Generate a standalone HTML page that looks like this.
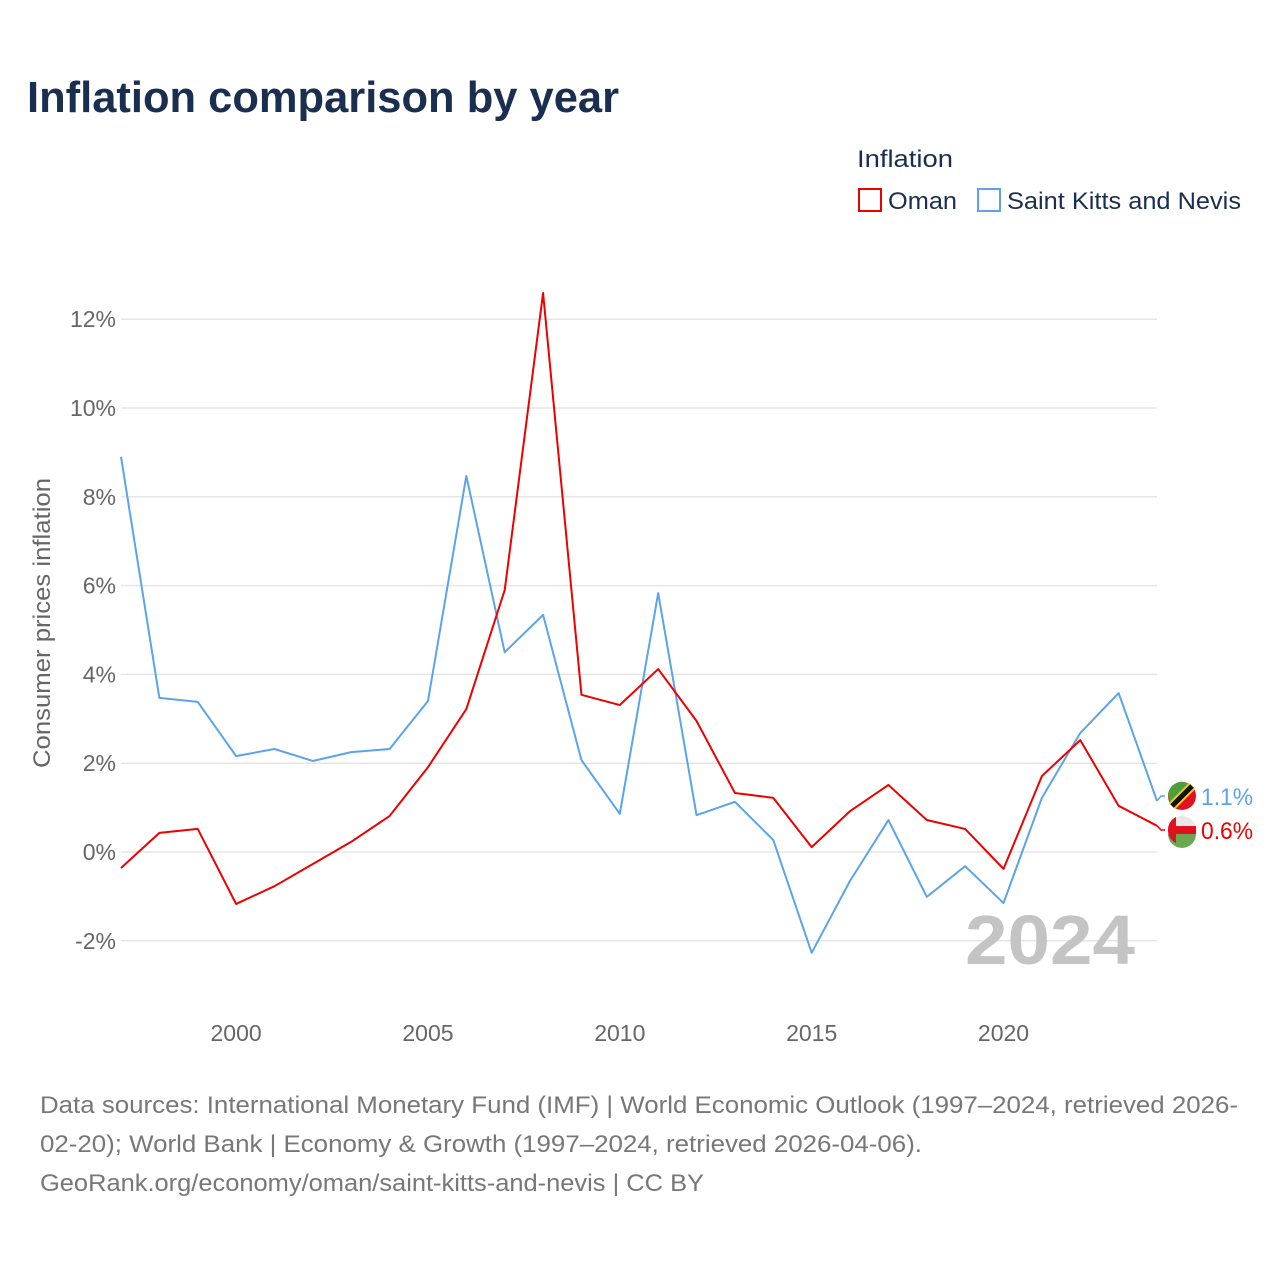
<!DOCTYPE html>
<html><head><meta charset="utf-8"><style>
body{margin:0;background:#fff;font-family:"Liberation Sans",sans-serif}
svg{display:block}
</style></head><body>
<svg id="chart" width="1280" height="1280" viewBox="0 0 1280 1280">
<text x="27" y="112" font-size="44" font-weight="bold" fill="#1a2e4f" textLength="592" lengthAdjust="spacingAndGlyphs">Inflation comparison by year</text>
<g>
<text x="857" y="167" font-size="24" fill="#1a2e4f" textLength="96" lengthAdjust="spacingAndGlyphs">Inflation</text>
<g><rect x="859" y="189" width="22" height="22" fill="none" stroke="#e00" stroke-width="2"/><text x="888" y="209" font-size="24" fill="#1a2e4f" textLength="69" lengthAdjust="spacingAndGlyphs">Oman</text></g>
<g><rect x="978" y="189" width="22" height="22" fill="none" stroke="#5ba4ea" stroke-width="2"/><text x="1007" y="209" font-size="24" fill="#1a2e4f" textLength="234" lengthAdjust="spacingAndGlyphs">Saint Kitts and Nevis</text></g>
</g>
<g id="grid"></g><g id="xaxis"></g><g id="lines"></g>
<text x="1135" y="964" font-size="70" font-weight="bold" fill="#c4c4c4" text-anchor="end" textLength="170" lengthAdjust="spacingAndGlyphs">2024</text>
<text transform="translate(50,623) rotate(-90)" font-size="24" fill="#666" text-anchor="middle" textLength="290" lengthAdjust="spacingAndGlyphs">Consumer prices inflation</text>
<g font-size="24" fill="#777">
<text x="40" y="1113" textLength="1198" lengthAdjust="spacingAndGlyphs">Data sources: International Monetary Fund (IMF) | World Economic Outlook (1997–2024, retrieved 2026-</text>
<text x="40" y="1152" textLength="882" lengthAdjust="spacingAndGlyphs">02-20); World Bank | Economy &amp; Growth (1997–2024, retrieved 2026-04-06).</text>
<text x="40" y="1191" textLength="664" lengthAdjust="spacingAndGlyphs">GeoRank.org/economy/oman/saint-kitts-and-nevis | CC BY</text>
</g>
</svg>
<script>
const years=[1997,1998,1999,2000,2001,2002,2003,2004,2005,2006,2007,2008,2009,2010,2011,2012,2013,2014,2015,2016,2017,2018,2019,2020,2021,2022,2023,2024];
const oman=[-0.36,0.43,0.52,-1.17,-0.77,-0.27,0.23,0.81,1.91,3.22,5.9,12.59,3.54,3.31,4.12,2.95,1.33,1.22,0.11,0.92,1.51,0.72,0.52,-0.38,1.71,2.52,1.04,0.59];
const skn=[8.9,3.47,3.38,2.16,2.32,2.05,2.25,2.32,3.4,8.47,4.5,5.34,2.07,0.86,5.83,0.83,1.13,0.27,-2.27,-0.65,0.72,-1.01,-0.32,-1.15,1.22,2.68,3.58,1.15];
const yTicks=[-2,0,2,4,6,8,10,12];
const xTicks=[2000,2005,2010,2015,2020];
const NS="http://www.w3.org/2000/svg";
const X=v=>121+(v-1997)*(1157-121)/27;
const Y=v=>852-v*44.4;
function mk(t,a,p){const e=document.createElementNS(NS,t);for(const k in a)e.setAttribute(k,a[k]);p.appendChild(e);return e;}
const grid=document.getElementById('grid');
yTicks.forEach(t=>{
 const l=mk('line',{x1:121,x2:1157,y1:Y(t),y2:Y(t),stroke:'#e6e6e6','stroke-width':1.5},grid);
 
 
 const tx=mk('text',{x:116,y:Y(t)+8,'font-size':23,fill:'#666','text-anchor':'end'},grid);
 tx.textContent=t+'%';
 
 
});
const xa=document.getElementById('xaxis');
xTicks.forEach(t=>{
 const tx=mk('text',{x:X(t),y:1041,'font-size':23,fill:'#666','text-anchor':'middle'},xa);
 tx.textContent=t;
 
 
});
const lg=document.getElementById('lines');
function line(vals,col,name){
 const p=mk('polyline',{points:vals.map((v,i)=>X(years[i])+','+Y(v)).join(' '),fill:'none',stroke:col,'stroke-width':2,'stroke-linejoin':'round'},lg);
 
 
}
line(skn,'#5ba4ea','line-saint-kitts-and-nevis');
line(oman,'#ee0000','line-oman');
function endLabel(v,col,name,ly,flag){
 const last=v[v.length-1];
 mk('polyline',{points:`${X(2024)},${Y(last)} ${X(2024)+4},${ly} ${X(2024)+8},${ly}`,fill:'none',stroke:col,'stroke-width':1.5},lg);
 const g=mk('g',{},lg);
 
 
 flag(g,1182,ly);
 const t=mk('text',{x:1201,y:ly+9,'font-size':24,fill:col,textLength:52,lengthAdjust:'spacingAndGlyphs'},lg);
 t.textContent=last.toFixed(1)+'%';
 
 
}
endLabel(skn,'#5ba4ea','skn',796,(g,cx,cy)=>{
 mk('circle',{cx,cy,r:14,fill:'#e0101e'},g);
 mk('path',{d:`M${cx-14},${cy} A14,14 0 0 1 ${cx+10},${cy-10} L${cx-10},${cy+10}Z`,fill:'#4f9e3a'},g);
 mk('line',{x1:cx-10,y1:cy+10,x2:cx+10,y2:cy-10,stroke:'#f5d000','stroke-width':9},g);
 mk('line',{x1:cx-10,y1:cy+10,x2:cx+10,y2:cy-10,stroke:'#111','stroke-width':5},g);
});
endLabel(oman,'#ee0000','oman',830,(g,cx,cy)=>{
 mk('circle',{cx,cy,r:14,fill:'#e8e8e8'},g);
 mk('path',{d:`M${cx-14},${cy+4} L${cx+14},${cy+4} A14,14 0 0 1 ${cx-14},${cy+4}Z`,fill:'#6aa84f'},g);
 mk('rect',{x:cx-9,y:cy-4,width:23,height:8,fill:'#e0101e'},g);
 mk('path',{d:`M${cx-14},${cy} A14,14 0 0 1 ${cx-6},${cy-13} L${cx-6},${cy+13} A14,14 0 0 1 ${cx-14},${cy}Z`,fill:'#e0101e'},g);
});
</script>
</body></html>
